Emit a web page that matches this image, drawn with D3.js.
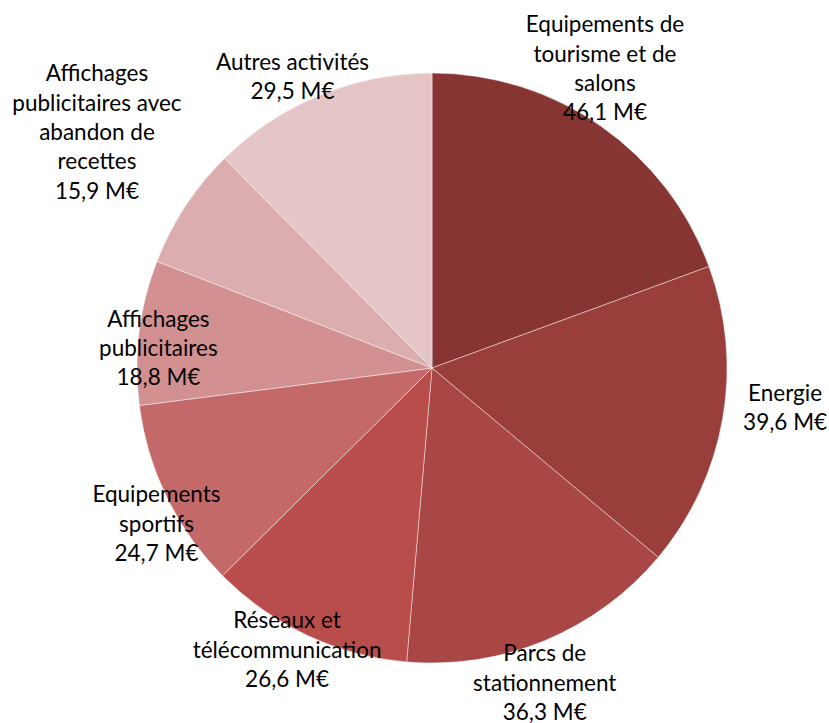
<!DOCTYPE html>
<html>
<head>
<meta charset="utf-8">
<script src="https://cdn.jsdelivr.net/npm/d3@7"></script>
<style>
  html, body { margin: 0; padding: 0; background: #fff; }
  svg text { font-family: Lato, "Open Sans", sans-serif; fill: #000; }
</style>
</head>
<body>
<svg id="chart" width="829" height="723"></svg>
<script>
// Categories (each label split into display lines) and amounts in M€
const categories = [
  ["Equipements de", "tourisme et de", "salons"],
  ["Energie"],
  ["Parcs de", "stationnement"],
  ["Réseaux et", "télécommunication"],
  ["Equipements", "sportifs"],
  ["Affichages", "publicitaires"],
  ["Affichages", "publicitaires avec", "abandon de", "recettes"],
  ["Autres activités"]
];
const values = [46.1, 39.6, 36.3, 26.6, 24.7, 18.8, 15.9, 29.5];
const valueLabels = ["46,1 M€", "39,6 M€", "36,3 M€", "26,6 M€", "24,7 M€", "18,8 M€", "15,9 M€", "29,5 M€"];
const colors = ["#873533", "#9a3e3c", "#a84746", "#b84d4b", "#c4696a", "#d29090", "#dbadae", "#e5c5c6"];
// Per-label nudge (px) from the label ring position
const labelNudge = [[-16, -29], [28, -17], [-14, 10], [-5, -17], [21, 11], [54, 20], [-59, -55], [-14, 14]];

const cx = 432, cy = 368, radius = 295, labelRadius = 330;
const fontSize = 22.5, lineHeight = 29.3;

const svg = d3.select("#chart");
const g = svg.append("g").attr("transform", `translate(${cx},${cy})`);

const pie = d3.pie().sort(null).value(d => d)(values);
const arc = d3.arc().innerRadius(0).outerRadius(radius);
const labelArc = d3.arc().innerRadius(labelRadius).outerRadius(labelRadius);

g.selectAll("path.slice")
  .data(pie)
  .join("path")
  .attr("class", "slice")
  .attr("d", arc)
  .attr("fill", (d, i) => colors[i])
  .attr("stroke", "rgba(255,255,255,0.55)")
  .attr("stroke-width", 0.8);

const labels = g.selectAll("text.label")
  .data(pie)
  .join("text")
  .attr("class", "label")
  .attr("text-anchor", "middle")
  .attr("font-size", fontSize)
  .attr("transform", (d, i) => {
    const [x, y] = labelArc.centroid(d);
    return `translate(${x + labelNudge[i][0]},${y + labelNudge[i][1]})`;
  });

labels.each(function (d, i) {
  const lines = categories[i].concat([valueLabels[i]]);
  const n = lines.length;
  d3.select(this).selectAll("tspan")
    .data(lines)
    .join("tspan")
    .attr("x", 0)
    .attr("y", (l, k) => (k - (n - 1) / 2) * lineHeight)
    .attr("dy", "0.35em")
    .text(l => l);
});
</script>
</body>
</html>
